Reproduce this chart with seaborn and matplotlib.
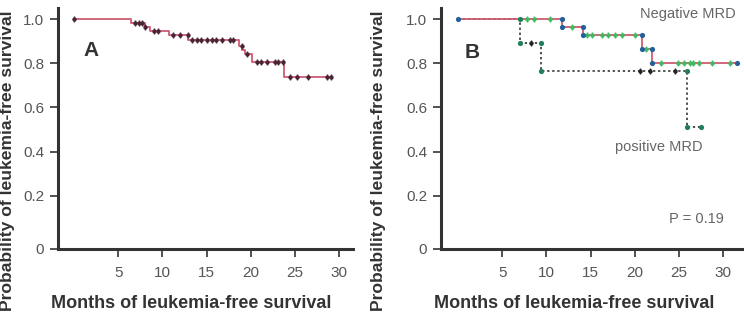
import matplotlib
matplotlib.use("Agg")
import matplotlib.pyplot as plt
import seaborn as sns
import numpy as np

# ---------------- data ----------------
# Panel A: overall leukemia-free survival (step curve)
a_time = [0, 6.5, 8.0, 8.6, 10.8, 12.9, 18.7, 19.0, 19.3, 20.1, 23.8, 29.1]
a_surv = [1.0, 0.98, 0.965, 0.945, 0.927, 0.905, 0.88, 0.862, 0.842, 0.806, 0.737, 0.737]
a_cens_time = [0, 6.9, 7.3, 7.7, 8.05, 9.0, 9.55, 11.2, 12.0, 12.9, 13.3, 13.9, 14.4, 15.0,
               15.6, 16.1, 16.7, 17.6, 18.0, 19.0, 19.6, 20.7, 21.2, 21.8, 22.7, 23.1, 23.6,
               24.4, 25.2, 26.5, 28.6, 29.1]
a_cens_surv = [1.0, 0.98, 0.98, 0.98, 0.965, 0.945, 0.945, 0.927, 0.927, 0.927, 0.905, 0.905,
               0.905, 0.905, 0.905, 0.905, 0.905, 0.905, 0.905, 0.88, 0.842, 0.806, 0.806,
               0.806, 0.806, 0.806, 0.806, 0.737, 0.737, 0.737, 0.737, 0.737]

# Panel B: negative MRD
neg_time = [0, 11.8, 14.1, 20.85, 21.9, 31.5]
neg_surv = [1.0, 0.965, 0.928, 0.864, 0.80, 0.80]
neg_cens_time = [7.8, 8.6, 10.4, 12.9, 14.6, 15.2, 16.3, 17.0, 17.8, 18.5, 20.0, 21.3,
                 23.0, 24.9, 25.5, 26.2, 26.6, 27.2, 28.7, 30.8]
neg_cens_surv = [1.0, 1.0, 1.0, 0.965, 0.928, 0.928, 0.928, 0.928, 0.928, 0.928, 0.928,
                 0.864, 0.80, 0.80, 0.80, 0.80, 0.80, 0.80, 0.80, 0.80]
neg_event_time = [0, 11.8, 11.8, 14.1, 14.1, 20.85, 20.85, 21.9, 21.9, 31.5]
neg_event_surv = [1.0, 1.0, 0.965, 0.965, 0.928, 0.928, 0.864, 0.864, 0.80, 0.80]

# Panel B: positive MRD
pos_time = [0, 7.0, 9.4, 25.9, 27.5]
pos_surv = [1.0, 0.89, 0.765, 0.51, 0.51]
pos_corner_time = [7.0, 7.0, 9.4, 9.4, 25.9, 25.9, 27.5]
pos_corner_surv = [1.0, 0.89, 0.89, 0.765, 0.765, 0.51, 0.51]
pos_cens_time = [8.2, 20.6, 21.7, 24.5]
pos_cens_surv = [0.89, 0.765, 0.765, 0.765]

x_ticks = [5, 10, 15, 20, 25, 30]
y_ticks = [0.2, 0.4, 0.6, 0.8, 1.0]
y_labels = ["0.2", "0.4", "0.6", "0.8", "1.0"]

# ---------------- style ----------------
sns.set_style("ticks")
plt.rcParams['font.family'] = ['Liberation Sans', 'DejaVu Sans']

RED = "#cf5a72"
DARK = "#4a2535"
GREEN = "#3dbb5e"
DGREEN = "#1f7f58"
BLUE = "#23609a"
SPINE = "#333333"
TXT = "#555555"

W, H = 744, 322
fig = plt.figure(figsize=(W / 100, H / 100), dpi=100)
axA = fig.add_axes([58 / W, (H - 249) / H, (353 - 58) / W, (249 - 8) / H])
axB = fig.add_axes([441 / W, (H - 249) / H, (742 - 441) / W, (249 - 8) / H])

YMIN, YMAX = -0.04, 1.05


def censor(ax, x, y, color, z=5):
    sns.scatterplot(x=x, y=y, ax=ax, color=color, marker="o", s=10, linewidth=0, zorder=z)
    sns.scatterplot(x=x, y=y, ax=ax, color=color, marker="|", s=22, linewidth=1.0, zorder=z)


def style_axis(ax, xmin, xmax):
    ax.set_xlim(xmin, xmax)
    ax.set_ylim(YMIN, YMAX)
    for s in ["top", "right"]:
        ax.spines[s].set_visible(False)
    for s in ["left", "bottom"]:
        ax.spines[s].set_linewidth(2.2)
        ax.spines[s].set_color(SPINE)
    ax.set_xticks(x_ticks)
    ax.set_xticklabels([str(t) for t in x_ticks])
    ax.set_yticks([YMIN] + y_ticks)
    ax.set_yticklabels(["0"] + y_labels)
    ax.tick_params(axis="both", colors=SPINE, labelcolor=TXT, labelsize=11,
                   width=1.2, length=6, direction="out")
    ax.tick_params(axis="y", pad=4)
    ax.tick_params(axis="x", pad=6)
    ax.set_xlabel("")
    ax.set_ylabel("")
    ax.set_facecolor("white")


# ---- Panel A ----
sns.lineplot(x=a_time, y=a_surv, ax=axA, color=RED, lw=1.3, drawstyle="steps-post",
             estimator=None, sort=False, zorder=3)
censor(axA, a_cens_time, a_cens_surv, DARK)
style_axis(axA, -1.81, 31.56)
fig.text(91 / W, 1 - 51 / H, "A", ha="center", va="center",
         fontsize=15, fontweight="bold", color=SPINE)

# ---- Panel B ----
sns.lineplot(x=pos_time, y=pos_surv, ax=axB, color="#222222", lw=1.1, drawstyle="steps-post",
             estimator=None, sort=False, linestyle=(0, (1.5, 1.8)), zorder=2)
sns.lineplot(x=neg_time, y=neg_surv, ax=axB, color=RED, lw=1.3, drawstyle="steps-post",
             estimator=None, sort=False, zorder=3)
censor(axB, neg_cens_time, neg_cens_surv, GREEN)
sns.scatterplot(x=neg_event_time, y=neg_event_surv, ax=axB, color=BLUE, marker="o", s=14,
                linewidth=0, zorder=6)
censor(axB, pos_cens_time, pos_cens_surv, "#222222")
sns.scatterplot(x=pos_corner_time, y=pos_corner_surv, ax=axB, color=DGREEN, marker="o", s=14,
                linewidth=0, zorder=6)
style_axis(axB, -1.92, 32.1)
fig.text(472 / W, 1 - 52 / H, "B", ha="center", va="center",
         fontsize=15, fontweight="bold", color=SPINE)

fig.text(688 / W, 1 - 14 / H, "Negative MRD", ha="center", va="center", fontsize=10.5, color="#666666")
fig.text(659 / W, 1 - 147 / H, "positive MRD", ha="center", va="center", fontsize=10.5, color="#666666")
fig.text(696 / W, 1 - 219 / H, "P = 0.19", ha="center", va="center", fontsize=10.5, color="#666666")

# axis titles
for xc in (191 / W, 574 / W):
    fig.text(xc, 1 - 303 / H, "Months of leukemia-free survival", ha="center", va="center",
             fontsize=13, fontweight="bold", color=SPINE)
for xc in (8 / W, 379 / W):
    fig.text(xc, 1 - 161 / H, "Probability of leukemia-free survival", ha="center", va="center",
             rotation=90, fontsize=12.6, fontweight="bold", color=SPINE)

fig.savefig("out.png", dpi=100, facecolor="white")
